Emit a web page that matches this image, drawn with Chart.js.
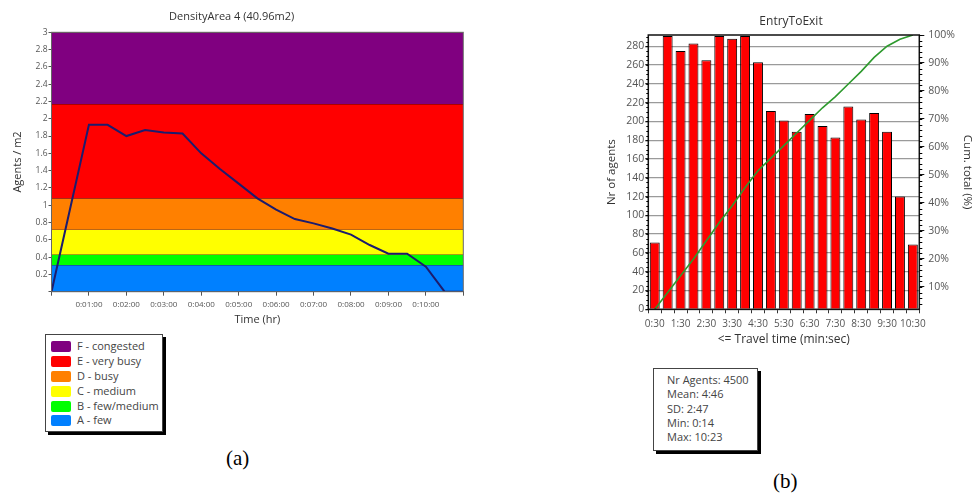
<!DOCTYPE html>
<html>
<head>
<meta charset="utf-8">
<script src="https://cdn.jsdelivr.net/npm/chart.js@4.4.1/dist/chart.umd.min.js"></script>
<style>
body{margin:0;width:973px;height:494px;overflow:hidden;background:#fff;position:relative;font-family:"Open Sans",sans-serif;}
#wrapA{position:absolute;left:0;top:0;}
#wrapB{position:absolute;left:604px;top:0;}
.box{position:absolute;background:#fff;border:1px solid #444;box-shadow:3px 3px 0 #000;color:#444;font-size:11px;}
#legendA{left:45px;top:334px;width:116px;height:96px;}
#legendA div{height:14.9px;line-height:14.9px;display:flex;align-items:center;}
#legendA span.sw{width:20px;height:11px;border-radius:2px;margin:0 6px 0 5px;display:inline-block;}
#statsB{left:653px;top:368px;width:103px;height:81px;padding:0;}
#statsB div{height:14.3px;line-height:14.3px;padding-left:13px;}
.cap{position:absolute;font-family:"Liberation Serif",serif;font-size:21px;color:#000;}
</style>
</head>
<body>
<div id="wrapA"><canvas id="chartA" width="474" height="330"></canvas></div>
<div id="wrapB"><canvas id="chartB" width="374" height="355"></canvas></div>
<div id="legendA" class="box"></div>
<div id="statsB" class="box"></div>
<div class="cap" style="left:226px;top:446px;">(a)</div>
<div class="cap" style="left:773px;top:469px;">(b)</div>
<script>
// (a) density over time
const densityTimes = [0,1,1.5,2,2.5,3,3.5,4,4.5,5,5.5,6,6.5,7,7.5,8,8.5,9,9.5,10,10.5,11];
const densityValues = [0,1.93,1.93,1.80,1.87,1.84,1.83,1.60,1.42,1.25,1.08,0.95,0.84,0.79,0.73,0.66,0.54,0.44,0.44,0.29,0,0];
const timeLabels = ['0:01:00','0:02:00','0:03:00','0:04:00','0:05:00','0:06:00','0:07:00','0:08:00','0:09:00','0:10:00'];
const bandLabels = ['F - congested','E - very busy','D - busy','C - medium','B - few/medium','A - few'];
const bandColors = ['#800080','#ff0000','#ff8000','#ffff00','#00ff00','#0080ff'];
const bandTops = [3,2.17,1.08,0.72,0.43,0.31];

// (b) travel time histogram
const travelBins = ['0:30','1:00','1:30','2:00','2:30','3:00','3:30','4:00','4:30','5:00','5:30','6:00','6:30','7:00','7:30','8:00','8:30','9:00','9:30','10:00','10:30'];
const agentCounts = [71,291,275,283,265,291,288,291,263,211,201,189,208,195,183,216,202,209,189,120,69];
const cumTotals = [2,8,14,20,26.5,33,39,45.5,51.5,56,60.5,65,69.5,74,78,82.5,87,92,96,98.5,100];
const countTicks = [0,20,40,60,80,100,120,140,160,180,200,220,240,260,280];
const pctTicks = [10,20,30,40,50,60,70,80,90,100];
const statLines = ['Nr Agents: 4500','Mean: 4:46','SD: 2:47','Min: 0:14','Max: 10:23'];

const tickGray = '#555';
const titleGray = '#333';

const frame = {
    id:'frame',
    afterDatasetsDraw(c, args, opts){
        const a = c.chartArea, ctx = c.ctx;
        ctx.save();
        ctx.strokeStyle = opts.color;
        ctx.lineWidth = opts.width;
        ctx.strokeRect(a.left, a.top, a.right-a.left, a.bottom-a.top);
        ctx.restore();
    }
};

const minorTicks = {
    id:'minorTicks',
    afterDraw(c, args, opts){
        const ctx = c.ctx;
        ctx.save();
        ctx.strokeStyle = '#000';
        ctx.lineWidth = 1;
        (opts.axes || []).forEach(m=>{
            const s = c.scales[m.id];
            if(!s) return;
            for(let v = m.from; v <= s.max + 1e-9; v += m.step){
                const y = Math.round(s.getPixelForValue(v)) + 0.5;
                ctx.beginPath();
                if(m.side === 'right'){ ctx.moveTo(s.left, y); ctx.lineTo(s.left + m.len, y); }
                else { ctx.moveTo(s.right, y); ctx.lineTo(s.right - m.len, y); }
                ctx.stroke();
            }
        });
        ctx.restore();
    }
};

// chart (a)
const bandSets = bandTops.map((top,i)=>({
    label: bandLabels[i],
    data: [{x:0,y:top},{x:11,y:top}],
    borderColor: 'rgba(60,0,0,0.75)',
    borderWidth: 1,
    backgroundColor: bandColors[i],
    fill: i < bandTops.length-1 ? '+1' : 'origin',
    pointRadius: 0,
    order: 1
}));

new Chart(document.getElementById('chartA'), {
    type:'line',
    data:{
        datasets:[{
            label:'Density',
            data: densityTimes.map((t,i)=>({x:t,y:densityValues[i]})),
            borderColor:'#1c1c6e',
            borderWidth:2,
            pointRadius:0,
            fill:false,
            order:0
        }, ...bandSets]
    },
    options:{
        responsive:false,
        animation:false,
        layout:{padding:{left:0,right:10.7,top:0,bottom:0}},
        plugins:{
            legend:{display:false},
            tooltip:{enabled:false},
            title:{display:true,text:'DensityArea 4 (40.96m2)',color:titleGray,
                font:{family:'Open Sans',size:11,weight:'normal'},padding:{top:10.4,bottom:8.7}},
            frame:{color:'#666',width:1}
        },
        scales:{
            x:{
                type:'linear',min:0,max:11,
                ticks:{stepSize:1,color:tickGray,font:{family:'Open Sans',size:8},padding:4,maxRotation:0,autoSkip:false,
                    callback:v=>timeLabels[v-1] || ''},
                grid:{drawOnChartArea:false,tickLength:4,color:'#555'},
                border:{color:'#555'},
                title:{display:true,text:'Time (hr)',color:titleGray,font:{family:'Open Sans',size:11},padding:{top:0,bottom:4}},
                afterFit:s=>{s.height = 38.3;}
            },
            y:{
                min:0,max:3,
                ticks:{stepSize:0.2,color:tickGray,font:{family:'Open Sans',size:8.5},padding:1,
                    callback:v=>v===0 ? '' : String(+v.toFixed(1))},
                grid:{drawOnChartArea:false,tickLength:3,color:'#555'},
                border:{color:'#555'},
                title:{display:true,text:'Agents / m2',color:titleGray,font:{family:'Open Sans',size:11},padding:{top:11,bottom:0}},
                afterFit:s=>{s.width = 51.5;}
            }
        }
    },
    plugins:[frame]
});

// chart (b)
new Chart(document.getElementById('chartB'), {
    type:'bar',
    data:{
        labels: travelBins,
        datasets:[{
            type:'line',
            label:'Cum. total',
            data: cumTotals,
            yAxisID:'y2',
            borderColor:'#2e9a2e',
            borderWidth:1.6,
            pointRadius:0,
            fill:false,
            order:0
        },{
            label:'Nr of agents',
            data: agentCounts,
            backgroundColor:'#ff0000',
            borderColor:'#000',
            borderWidth:1,
            barPercentage:0.77,
            categoryPercentage:1,
            order:1
        }]
    },
    options:{
        responsive:false,
        animation:false,
        layout:{padding:0},
        plugins:{
            legend:{display:false},
            tooltip:{enabled:false},
            title:{display:true,text:'EntryToExit',color:titleGray,
                font:{family:'Open Sans',size:12,weight:'normal'},padding:{top:14.5,bottom:6.1}},
            frame:{color:'#111',width:1.5},
            minorTicks:{axes:[{id:'y2',from:4,step:2,len:3,side:'right'},{id:'y',from:0,step:5,len:2,side:'left'}]}
        },
        scales:{
            x:{
                ticks:{color:tickGray,font:{family:'Open Sans',size:10},padding:5,maxRotation:0,autoSkip:false,
                    callback:(v,i)=>i%2===0 ? travelBins[i] : ''},
                grid:{drawOnChartArea:false,tickLength:4,color:'#333'},
                border:{color:'#111'},
                title:{display:true,text:'<= Travel time (min:sec)',color:titleGray,font:{family:'Open Sans',size:12},padding:{top:0,bottom:7.8}},
                afterFit:s=>{s.height = 45.7;}
            },
            y:{
                min:0,max:292,
                afterBuildTicks:s=>{s.ticks = countTicks.map(v=>({value:v}));},
                ticks:{color:tickGray,font:{family:'Open Sans',size:10.5},padding:1},
                grid:{color:'#9a9a9a',lineWidth:1.3,tickLength:3,tickColor:'#222'},
                border:{color:'#111'},
                title:{display:true,text:'Nr of agents',color:titleGray,font:{family:'Open Sans',size:11.5},padding:{top:1,bottom:0}},
                afterFit:s=>{s.width = 44.3;}
            },
            y2:{
                position:'right',
                min:2,max:100,
                afterBuildTicks:s=>{s.ticks = pctTicks.map(v=>({value:v}));},
                ticks:{color:tickGray,font:{family:'Open Sans',size:10.5},padding:4,callback:v=>v+'%'},
                grid:{drawOnChartArea:false,tickLength:5,color:'#111'},
                border:{color:'#111'},
                title:{display:true,text:'Cum. total (%)',color:titleGray,font:{family:'Open Sans',size:11.5},padding:{top:4,bottom:0}},
                afterFit:s=>{s.width = 58.7;}
            }
        }
    },
    plugins:[frame, minorTicks]
});

document.getElementById('legendA').innerHTML = '<div style="height:4px"></div>' + bandLabels.map((l,i)=>
    `<div><span class="sw" style="background:${bandColors[i]}"></span>${l}</div>`).join('');
document.getElementById('statsB').innerHTML = '<div style="height:4px"></div>' + statLines.map(l=>`<div>${l}</div>`).join('');
</script>
</body>
</html>
